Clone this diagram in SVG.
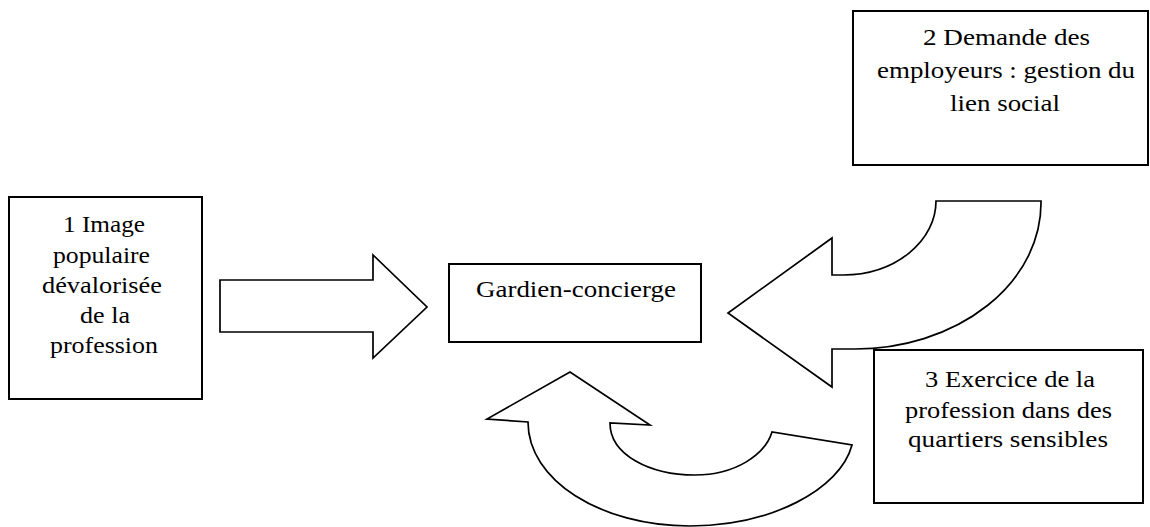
<svg xmlns="http://www.w3.org/2000/svg" width="1150" height="527" viewBox="0 0 1150 527">
<style>
.box{fill:#fff;stroke:#000;stroke-width:2}
.arr{fill:#fff;stroke:#000;stroke-width:1.7;stroke-linejoin:miter}
.t{font-family:"Liberation Serif","Times New Roman",serif;font-size:23px;fill:#000}
</style>
<rect width="1150" height="527" fill="#fff"/>
<g id="connectors">
<path class="arr" d="M220,280 L373,280 L373,255 L427,307 L373,358 L373,332 L220,332 Z"/>
<path class="arr" d="M936,201 L1041,201 A186,146 0 0 1 855,349 L832,349 L832,387 L728,313 L832,238 L832,275 L843,275 A93,74 0 0 0 936,201 Z"/>
<path class="arr" d="M570,372 L487,419 L528,422 C528,480 600,526 690,526 C770,526 840,490 852,445 L772,432 C765,455 735,475 695,475 C650,475 610,455 610,423 L650,425 Z"/>
</g>
<g id="node1">
<rect class="box" x="9" y="197" width="193" height="202"/>
<text class="t" x="63" y="232" textLength="82" lengthAdjust="spacingAndGlyphs">1 Image</text>
<text class="t" x="53" y="263" textLength="97" lengthAdjust="spacingAndGlyphs">populaire</text>
<text class="t" x="42" y="293" textLength="120" lengthAdjust="spacingAndGlyphs">dévalorisée</text>
<text class="t" x="80" y="323" textLength="50" lengthAdjust="spacingAndGlyphs">de la</text>
<text class="t" x="50" y="353" textLength="108" lengthAdjust="spacingAndGlyphs">profession</text>
</g>
<g id="center">
<rect class="box" x="449" y="264" width="252" height="78"/>
<text class="t" x="476" y="297" textLength="200" lengthAdjust="spacingAndGlyphs">Gardien-concierge</text>
</g>
<g id="node2">
<rect class="box" x="853" y="11" width="295" height="154"/>
<text class="t" x="923" y="45" textLength="167" lengthAdjust="spacingAndGlyphs">2 Demande des</text>
<text class="t" x="877" y="78" textLength="258" lengthAdjust="spacingAndGlyphs">employeurs : gestion du</text>
<text class="t" x="950" y="111" textLength="110" lengthAdjust="spacingAndGlyphs">lien social</text>
</g>
<g id="node3">
<rect class="box" x="874" y="350" width="269" height="153"/>
<text class="t" x="925" y="387" textLength="170" lengthAdjust="spacingAndGlyphs">3 Exercice de la</text>
<text class="t" x="905" y="418" textLength="207" lengthAdjust="spacingAndGlyphs">profession dans des</text>
<text class="t" x="908" y="447" textLength="200" lengthAdjust="spacingAndGlyphs">quartiers sensibles</text>
</g>
</svg>
